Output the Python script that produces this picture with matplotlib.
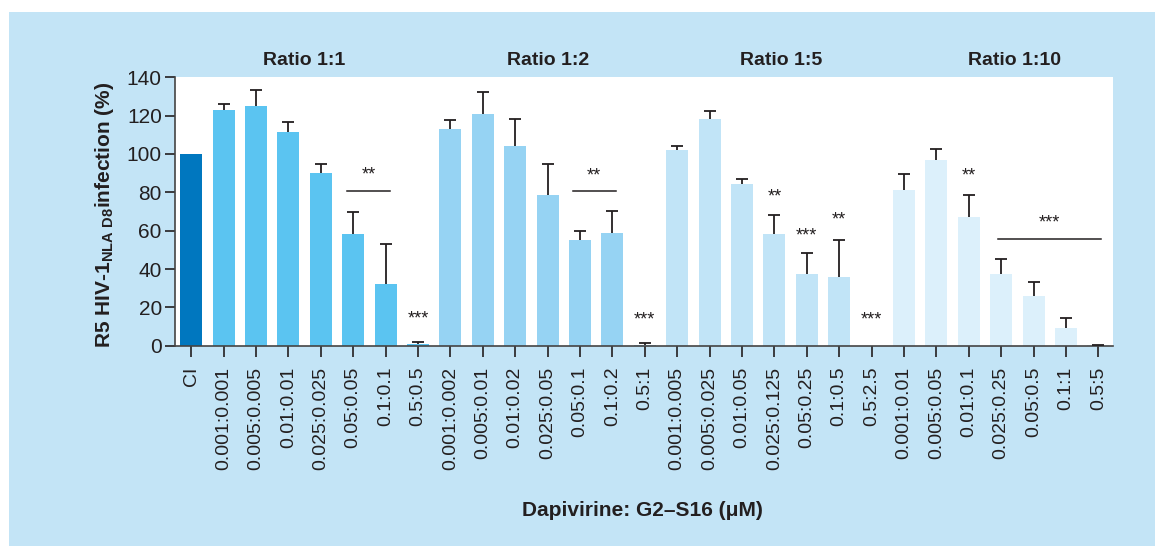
import numpy as np
import matplotlib.pyplot as plt
from matplotlib.patches import Rectangle

plt.rcParams['font.family'] = ['Liberation Sans', 'DejaVu Sans']
plt.rcParams['mathtext.fontset'] = 'custom'
plt.rcParams['mathtext.rm'] = 'Liberation Sans:bold'
plt.rcParams['mathtext.bf'] = 'Liberation Sans:bold'

# Data
labels = ['CI',
          '0.001:0.001', '0.005:0.005', '0.01:0.01', '0.025:0.025', '0.05:0.05', '0.1:0.1', '0.5:0.5',
          '0.001:0.002', '0.005:0.01', '0.01:0.02', '0.025:0.05', '0.05:0.1', '0.1:0.2', '0.5:1',
          '0.001:0.005', '0.005:0.025', '0.01:0.05', '0.025:0.125', '0.05:0.25', '0.1:0.5', '0.5:2.5',
          '0.001:0.01', '0.005:0.05', '0.01:0.1', '0.025:0.25', '0.05:0.5', '0.1:1', '0.5:5']
values = [100,
          123, 125, 111.5, 90, 58.3, 32.2, 0.7,
          113, 120.9, 104.2, 78.6, 55.1, 58.8, 0.3,
          102.1, 118.3, 84.3, 58.3, 37.4, 35.7, 0,
          81.2, 96.9, 67.1, 37.4, 25.9, 9.2, 0.2]
errors = [0,
          3.2, 8.5, 5.4, 4.8, 11.6, 20.7, 1.4,
          4.6, 11.6, 14.2, 16.4, 4.9, 11.6, 1.3,
          2.1, 4.3, 2.5, 9.7, 10.8, 19.4, 0,
          8.5, 5.5, 11.3, 7.6, 7.5, 5.4, 0.4]
groups = ['CI'] + ['1:1'] * 7 + ['1:2'] * 7 + ['1:5'] * 7 + ['1:10'] * 7
group_titles = ['Ratio 1:1', 'Ratio 1:2', 'Ratio 1:5', 'Ratio 1:10']
title_x = [3.5, 11.0, 18.2, 25.4]

# significance: single stars (index, y, text) and bracket lines (x0, x1, y line, y text, text)
star_marks = [(7, 14, '***'), (14, 13.4, '***'), (18, 77.7, '**'), (19, 57.4, '***'),
              (20, 65.6, '**'), (21, 13.4, '***'), (24, 88.5, '**')]
bracket_marks = [(4.8, 6.15, 80.9, 89, '**'), (11.77, 13.1, 80.7, 88.5, '**'),
                 (24.9, 28.07, 55.5, 63.8, '***')]

colors = {'CI': '#0077bf', '1:1': '#5bc4f1', '1:2': '#96d3f3', '1:5': '#c1e4f7', '1:10': '#dcf0fb'}
bg = '#c3e4f6'
dark = '#231f20'

fig = plt.figure(figsize=(11.55, 5.46), dpi=100)
fig.patch.set_facecolor('white')
fig.patches.append(Rectangle((9 / 1155, 0), 1, 1 - 12 / 546, transform=fig.transFigure,
                             facecolor=bg, edgecolor='none', zorder=-10))

ax = fig.add_axes([175 / 1155, 1 - 345.7 / 546, (1113 - 175) / 1155, (345.7 - 77.3) / 546])
ax.set_facecolor('white')

x = np.arange(len(labels))
ax.bar(x, values, width=0.68, color=[colors[g] for g in groups], zorder=2)

# upper error bars only (stem + cap at the top)
err = np.array(errors)
vals = np.array(values)
mask = err > 0
tops = vals[mask] + err[mask]
ax.vlines(x[mask], vals[mask], tops, color=dark, lw=1.3, zorder=3)
ax.plot(x[mask], tops, ls='none', marker='_', ms=8, mew=1.3, color=dark, zorder=3)

for i, y, t in star_marks:
    ax.text(i, y, t, ha='center', va='center', fontsize=13, color=dark)
for x0, x1, yl, yt, t in bracket_marks:
    ax.plot([x0, x1], [yl, yl], color=dark, lw=1.1)
    ax.text((x0 + x1) / 2, yt, t, ha='center', va='center', fontsize=13, color=dark)

for tx, tt in zip(title_x, group_titles):
    ax.text(tx, 148.7, tt, ha='center', va='center', fontsize=14, fontweight='bold', color=dark,
            clip_on=False)

ax.set_xlim(-0.5, 28.45)
ax.set_ylim(0, 140)
ax.set_yticks(np.arange(0, 141, 20))
ax.set_xticks(x)
ax.set_xticklabels(labels, rotation=90, fontsize=14, color=dark)
ax.tick_params(axis='y', labelsize=15, colors=dark, length=7, width=1.2, pad=2.5)
ax.tick_params(axis='x', colors=dark, length=8, width=1.2, pad=7)
for s in ['top', 'right']:
    ax.spines[s].set_visible(False)
for s in ['left', 'bottom']:
    ax.spines[s].set_color('#444444')
    ax.spines[s].set_linewidth(1.2)

fig.text(104 / 1155, 1 - 215 / 546, r'R5 HIV-1$_{\mathbf{NLA\ D8}}$infection (%)', rotation=90,
         ha='center', va='center', fontsize=15, fontweight='bold', color=dark)
fig.text(642 / 1155, 1 - 510 / 546, 'Dapivirine: G2\u2013S16 (\u03bcM)', ha='center', va='center',
         fontsize=15, fontweight='bold', color=dark)

fig.savefig('out.png', dpi=100)
